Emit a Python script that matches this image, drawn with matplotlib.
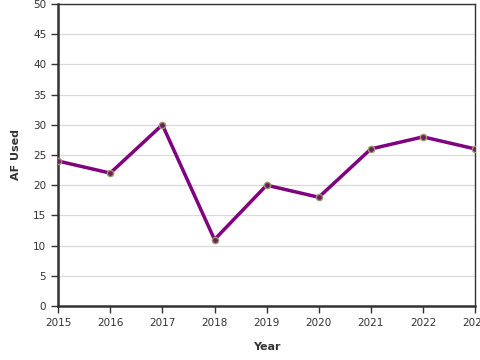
import matplotlib.pyplot as plt

years = [2015, 2016, 2017, 2018, 2019, 2020, 2021, 2022, 2023]
af_used = [24, 22, 30, 11, 20, 18, 26, 28, 26]
y_ticks = list(range(0, 51, 5))

fig = plt.figure(figsize=(4.8, 3.6), dpi=100)
ax = fig.add_axes([0.121, 0.15, 0.869, 0.839])

ax.plot(years, af_used, color='#800080', lw=2.5, zorder=3)
ax.plot(years, af_used, 'o', ms=4.5, mfc='#6b1f5f', mec='#9a9a6a', mew=1, zorder=4)

ax.set_xlim(2015, 2023)
ax.set_ylim(0, 50)
ax.set_xticks(years)
ax.set_yticks(y_ticks)
ax.grid(axis='y', color='#d9d9d9', lw=0.9)
ax.set_axisbelow(True)

for side in ['left', 'bottom']:
    ax.spines[side].set_linewidth(1.8)
    ax.spines[side].set_color('#333333')
for side in ['top', 'right']:
    ax.spines[side].set_linewidth(1.0)
    ax.spines[side].set_color('#333333')

ax.tick_params(labelsize=7.5, colors='#333333', length=5, width=1)
ax.set_xlabel('Year', fontsize=8, fontweight='bold', color='#333333', labelpad=10)
ax.set_ylabel('AF Used', fontsize=8, fontweight='bold', color='#333333', labelpad=9)

fig.savefig('out.png', dpi=100)
